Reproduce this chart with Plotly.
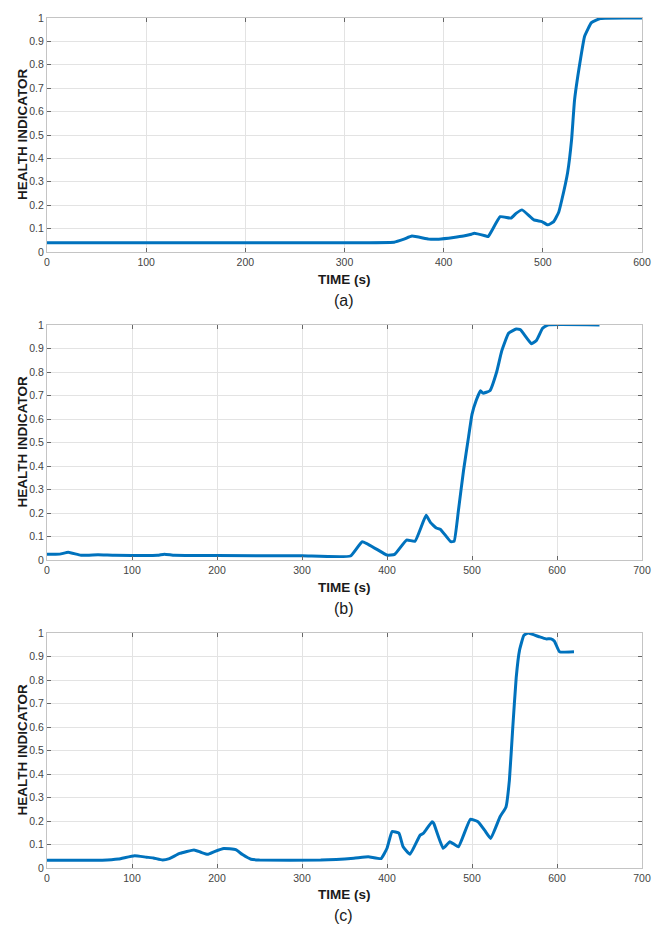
import plotly.graph_objects as go

# ---- data ----
time_a = [0, 50, 100, 150, 200, 250, 300, 350, 360, 368, 385, 395, 410, 420, 428, 431, 443, 445,
          457, 468, 473, 479, 491, 499, 505, 511, 516, 519, 525, 529, 532, 539, 542, 549, 558, 600]
hi_a = [0.040, 0.040, 0.039, 0.039, 0.039, 0.039, 0.040, 0.042, 0.055, 0.068, 0.055, 0.055, 0.062,
        0.068, 0.076, 0.080, 0.068, 0.066, 0.151, 0.145, 0.165, 0.180, 0.137, 0.130, 0.116, 0.130,
        0.170, 0.220, 0.340, 0.480, 0.650, 0.850, 0.920, 0.980, 0.998, 1.000]

time_b = [0, 15, 25, 40, 60, 80, 130, 138, 150, 200, 300, 357, 371, 400, 409, 423, 433, 446, 451,
          458, 463, 475, 479, 484, 490, 496, 500, 505, 510, 513, 521, 529, 535, 543, 552, 557, 570,
          576, 583, 589, 650]
hi_b = [0.025, 0.025, 0.033, 0.020, 0.022, 0.020, 0.020, 0.025, 0.020, 0.019, 0.018, 0.017, 0.078,
        0.021, 0.024, 0.085, 0.080, 0.190, 0.160, 0.136, 0.130, 0.078, 0.080, 0.210, 0.380, 0.525,
        0.620, 0.680, 0.720, 0.710, 0.720, 0.800, 0.890, 0.965, 0.983, 0.980, 0.920, 0.935, 0.986,
        1.000, 1.000]

time_c = [0, 65, 84, 103, 117, 125, 136, 144, 156, 173, 181, 189, 197, 208, 222, 230, 240, 250,
          322, 361, 378, 393, 400, 406, 414, 419, 427, 439, 443, 453, 455, 466, 474, 484, 498, 507,
          515, 522, 533, 540, 544, 548, 552, 556, 561, 566, 579, 587, 593, 597, 603, 620]
hi_c = [0.033, 0.033, 0.038, 0.052, 0.046, 0.043, 0.034, 0.040, 0.062, 0.077, 0.067, 0.058, 0.070,
        0.083, 0.078, 0.057, 0.037, 0.034, 0.034, 0.042, 0.048, 0.040, 0.084, 0.155, 0.148, 0.090,
        0.058, 0.140, 0.148, 0.197, 0.190, 0.084, 0.112, 0.090, 0.207, 0.197, 0.160, 0.126, 0.218,
        0.260, 0.374, 0.600, 0.810, 0.928, 0.990, 1.000, 0.984, 0.975, 0.975, 0.965, 0.920, 0.920]

panel_labels = ["(a)", "(b)", "(c)"]
x_ranges = [[0, 600], [0, 700], [0, 700]]
x_dticks = [100, 100, 100]
y_title = "HEALTH INDICATOR"
x_title = "TIME (s)"

W, H = 652, 925
LINE = "#0072BD"
GRID = "#e3e3e3"
BOX = "#c4c4c4"
TICKFONT = dict(family="Liberation Sans, Arial", size=10.5, color="#444444")

# panel pixel geometry: (top, bottom) in px
panels_px = [(18, 252), (325, 560), (633, 868)]
x_left, x_right = 47, 642
title_y_px = [279, 587, 894]
label_y_px = [300, 608, 915]


def py(p):
    return 1 - p / H


fig = go.Figure()
series = [(time_a, hi_a), (time_b, hi_b), (time_c, hi_c)]
layout = dict(
    width=W, height=H,
    margin=dict(l=0, r=0, t=0, b=0, autoexpand=False),
    paper_bgcolor="white", plot_bgcolor="white",
    showlegend=False,
    annotations=[],
)

for i, (t, v) in enumerate(series):
    n = "" if i == 0 else str(i + 1)
    fig.add_trace(go.Scatter(x=t, y=v, mode="lines", cliponaxis=False,
                             line=dict(color=LINE, width=3, shape="spline", smoothing=0.35),
                             xaxis="x" + n, yaxis="y" + n, hoverinfo="skip"))
    top, bot = panels_px[i]
    layout["xaxis" + n] = dict(
        domain=[x_left / W, x_right / W], anchor="y" + n, automargin=False,
        range=x_ranges[i], dtick=x_dticks[i], tick0=0,
        showgrid=True, gridcolor=GRID, gridwidth=1,
        showline=True, linecolor=BOX, linewidth=1, mirror="ticks",
        ticks="inside", ticklen=4, tickcolor="#666666",
        tickfont=TICKFONT, zeroline=False, ticklabeloverflow="allow",
    )
    layout["yaxis" + n] = dict(
        domain=[py(bot), py(top)], anchor="x" + n, automargin=False,
        range=[0, 1],
        tickvals=[round(k * 0.1, 1) for k in range(11)],
        ticktext=["0"] + [f"{k/10:.1f}" for k in range(1, 10)] + ["1"],
        showgrid=True, gridcolor=GRID, gridwidth=1,
        showline=True, linecolor=BOX, linewidth=1, mirror="ticks",
        ticks="inside", ticklen=4, tickcolor="#666666",
        tickfont=TICKFONT, zeroline=False, ticklabelstandoff=0, ticklabeloverflow="allow",
    )
    layout["annotations"].append(dict(
        text=f"<b>{y_title}</b>", textangle=-90, x=22 / W, y=py((top + bot) / 2),
        xref="paper", yref="paper", xanchor="center", yanchor="middle", showarrow=False,
        font=dict(family="Liberation Sans, Arial", size=13.5, color="#1a1a1a")))
    layout["annotations"].append(dict(
        text=f"<b>{x_title}</b>", x=(x_left + x_right) / 2 / W, y=py(title_y_px[i]),
        xref="paper", yref="paper", xanchor="center", yanchor="middle", showarrow=False,
        font=dict(family="Liberation Sans, Arial", size=13.5, color="#1a1a1a")))
    layout["annotations"].append(dict(
        text=panel_labels[i], x=344 / W, y=py(label_y_px[i]),
        xref="paper", yref="paper", xanchor="center", yanchor="middle", showarrow=False,
        font=dict(family="Liberation Sans, Arial", size=16, color="#1a1a1a")))

fig.update_layout(**layout)
fig.write_html("out.html", config={"displayModeBar": False},
               post_script="document.body.style.margin='0';document.body.style.overflow='hidden';")
